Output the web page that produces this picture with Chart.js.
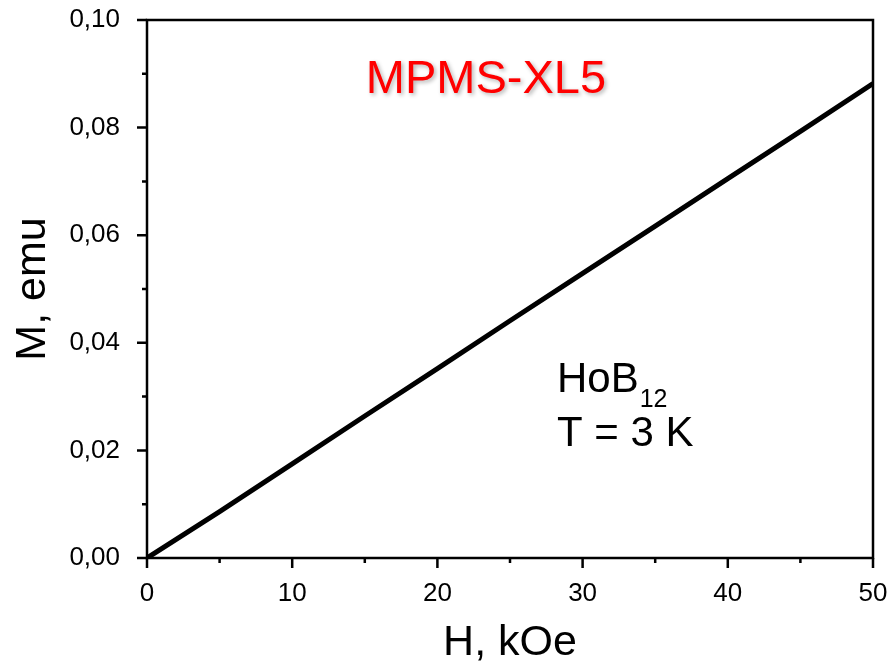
<!DOCTYPE html>
<html>
<head>
<meta charset="utf-8">
<script src="https://cdn.jsdelivr.net/npm/chart.js@4.4.0/dist/chart.umd.min.js"></script>
<style>
  html, body { margin: 0; padding: 0; background: #fff; }
  #wrap { width: 890px; height: 669px; }
</style>
</head>
<body>
<div id="wrap"><canvas id="mChart" width="890" height="669"></canvas></div>
<script>
// H in kOe, M in emu
const fieldH = [0, 5, 10, 15, 20, 25, 30, 35, 40, 45, 50];
const momentM = [0, 0.0086, 0.0175, 0.0264, 0.0352, 0.0441, 0.0529, 0.0617, 0.0705, 0.0793, 0.0882];

const xMajor = [0, 10, 20, 30, 40, 50];
const xMinor = [5, 15, 25, 35, 45];
const yMajor = [0, 0.02, 0.04, 0.06, 0.08, 0.10];
const yMinor = [0.01, 0.03, 0.05, 0.07, 0.09];

const FONT = 'Liberation Sans, Arial, sans-serif';

// frame, outward ticks and text labels
const framePlugin = {
    id: 'frame',
    afterDraw(chart) {
        const ctx = chart.ctx;
        const a = chart.chartArea;
        const xs = chart.scales.x, ys = chart.scales.y;
        ctx.save();
        ctx.strokeStyle = '#000';
        ctx.lineWidth = 2.5;
        ctx.strokeRect(a.left, a.top, a.right - a.left, a.bottom - a.top);

        ctx.beginPath();
        xMajor.forEach(v => { const p = xs.getPixelForValue(v); ctx.moveTo(p, a.bottom); ctx.lineTo(p, a.bottom + 10); });
        xMinor.forEach(v => { const p = xs.getPixelForValue(v); ctx.moveTo(p, a.bottom); ctx.lineTo(p, a.bottom + 5); });
        yMajor.forEach(v => { const p = ys.getPixelForValue(v); ctx.moveTo(a.left, p); ctx.lineTo(a.left - 10, p); });
        yMinor.forEach(v => { const p = ys.getPixelForValue(v); ctx.moveTo(a.left, p); ctx.lineTo(a.left - 5, p); });
        ctx.stroke();

        // MPMS-XL5 with a soft shadow
        ctx.font = '47px ' + FONT;
        ctx.textAlign = 'center';
        ctx.textBaseline = 'alphabetic';
        ctx.shadowColor = 'rgba(0,0,0,0.3)';
        ctx.shadowBlur = 4;
        ctx.shadowOffsetX = 2;
        ctx.shadowOffsetY = 2;
        ctx.fillStyle = '#ff0000';
        ctx.fillText('MPMS-XL5', 486, 93);
        ctx.shadowColor = 'transparent';

        ctx.fillStyle = '#000';
        ctx.textAlign = 'left';
        ctx.font = '42px ' + FONT;
        ctx.fillText('HoB', 557, 392);
        const w = ctx.measureText('HoB').width;
        ctx.font = '25px ' + FONT;
        ctx.fillText('12', 557 + w + 1, 407);
        ctx.font = '42px ' + FONT;
        ctx.fillText('T = 3 K', 557, 446);
        ctx.restore();
    }
};

const ctx = document.getElementById('mChart').getContext('2d');
new Chart(ctx, {
    type: 'line',
    data: {
        datasets: [{
            data: fieldH.map((h, i) => ({ x: h, y: momentM[i] })),
            borderColor: '#000',
            borderWidth: 5,
            pointRadius: 0,
            fill: false,
            tension: 0
        }]
    },
    options: {
        responsive: false,
        animation: false,
        layout: { padding: { top: 20, right: 17, left: 0, bottom: 0 } },
        plugins: { legend: { display: false }, tooltip: { enabled: false } },
        scales: {
            x: {
                type: 'linear',
                min: 0, max: 50,
                afterFit: s => { s.height = 111; s.paddingLeft = 0; s.paddingRight = 0; },
                grid: { display: false },
                border: { display: false },
                ticks: {
                    stepSize: 10,
                    padding: 12,
                    color: '#000',
                    font: { family: FONT, size: 26 }
                },
                title: {
                    display: true,
                    text: 'H, kOe',
                    color: '#000',
                    font: { family: FONT, size: 43 },
                    padding: { top: 21, bottom: 0 }
                }
            },
            y: {
                min: 0, max: 0.1,
                afterFit: s => { s.width = 147; s.paddingTop = 0; s.paddingBottom = 0; },
                grid: { display: false },
                border: { display: false },
                ticks: {
                    stepSize: 0.02,
                    padding: 19,
                    color: '#000',
                    font: { family: FONT, size: 26 },
                    callback: v => v.toFixed(2).replace('.', ',')
                },
                title: {
                    display: true,
                    text: 'M, emu',
                    color: '#000',
                    font: { family: FONT, size: 43 },
                    padding: { top: 7, bottom: 0 }
                }
            }
        }
    },
    plugins: [framePlugin]
});
</script>
</body>
</html>
